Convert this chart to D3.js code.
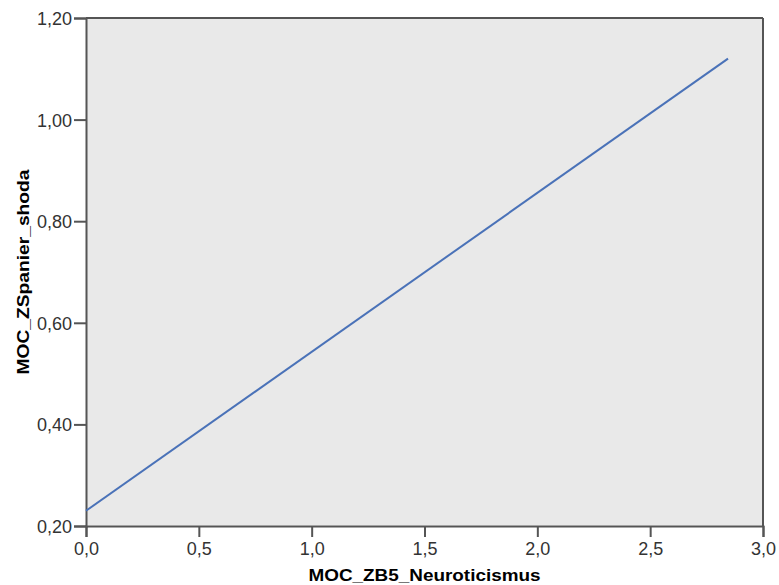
<!DOCTYPE html>
<html><head><meta charset="utf-8">
<script src="https://cdn.jsdelivr.net/npm/d3@7"></script>
<style>body{margin:0;background:#fff}svg{display:block}</style>
</head><body>
<script>
const xValues = [0.0, 2.845];
const yValues = [0.23, 1.12];
const xTicks = [0, 0.5, 1.0, 1.5, 2.0, 2.5, 3.0];
const yTicks = [0.2, 0.4, 0.6, 0.8, 1.0, 1.2];
const xTitle = "MOC_ZB5_Neuroticismus";
const yTitle = "MOC_ZSpanier_shoda";

const W = 779, H = 585;
const m = {l:86, r:16, t:18, b:59};
const svg = d3.select("body").append("svg").attr("width", W).attr("height", H);
const x = d3.scaleLinear().domain([0, 3]).range([m.l, W - m.r]);
const y = d3.scaleLinear().domain([0.2, 1.2]).range([H - m.b, m.t]);
const fmt1 = d => d.toFixed(1).replace(".", ",");
const fmt2 = d => d.toFixed(2).replace(".", ",");
const font = "'Liberation Sans', Arial, sans-serif";

svg.append("rect").attr("x", m.l).attr("y", m.t).attr("width", W - m.r - m.l).attr("height", H - m.b - m.t)
  .attr("fill", "#e9e9e9").attr("stroke", "#fafafa").attr("stroke-width", 1);

// border lines top & right
svg.append("line").attr("x1", m.l).attr("x2", W - m.r).attr("y1", m.t).attr("y2", m.t).attr("stroke", "#555").attr("stroke-width", 2);
svg.append("line").attr("x1", W - m.r).attr("x2", W - m.r).attr("y1", m.t).attr("y2", H - m.b).attr("stroke", "#555").attr("stroke-width", 2);

const xa = svg.append("g").attr("transform", `translate(0,${H - m.b})`)
  .call(d3.axisBottom(x).tickValues(xTicks).tickFormat(fmt1).tickSizeOuter(0).tickSize(11).tickPadding(5));
const ya = svg.append("g").attr("transform", `translate(${m.l},0)`)
  .call(d3.axisLeft(y).tickValues(yTicks).tickFormat(fmt2).tickSizeOuter(0).tickSize(12).tickPadding(2));
[xa, ya].forEach(a => {
  a.select(".domain").attr("stroke", "#555").attr("stroke-width", 2);
  a.selectAll(".tick line").attr("stroke", "#555").attr("stroke-width", 2);
  a.selectAll(".tick text").attr("fill", "#333").style("font-family", font).style("font-size", "18px");
});
ya.selectAll(".tick text").attr("dy", "0.36em");

const line = d3.line().x((d, i) => x(xValues[i])).y(d => y(d));
svg.append("path").datum(yValues).attr("d", line).attr("fill", "none")
  .attr("stroke", "#4a72b8").attr("stroke-width", 2);

svg.append("text").attr("x", (m.l + W - m.r) / 2).attr("y", 581).attr("text-anchor", "middle")
  .style("font-family", font).style("font-size", "17px").style("font-weight", "bold")
  .attr("textLength", 232).attr("lengthAdjust", "spacingAndGlyphs").text(xTitle);
svg.append("text").attr("transform", `translate(29,272) rotate(-90)`).attr("text-anchor", "middle")
  .style("font-family", font).style("font-size", "16px").style("font-weight", "bold")
  .attr("textLength", 205).attr("lengthAdjust", "spacingAndGlyphs").text(yTitle);
</script>
</body></html>
